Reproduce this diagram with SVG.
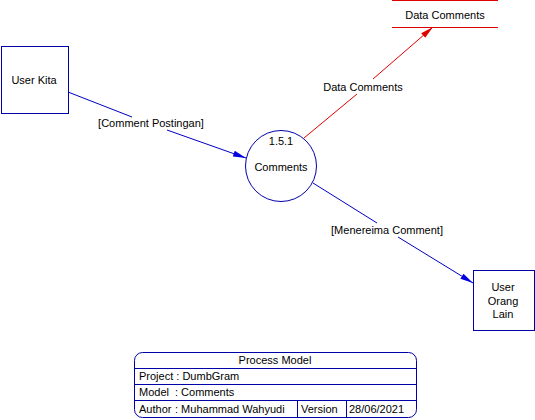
<svg xmlns="http://www.w3.org/2000/svg" width="535" height="420" viewBox="0 0 535 420">
<style>
text{font-family:"Liberation Sans",Arial,sans-serif;font-size:11px;fill:#000}
.c{text-anchor:middle}
.b{fill:none;stroke:#0000a8;stroke-width:1}
.r{fill:none;stroke:#e00000;stroke-width:1}
.bl{fill:none;stroke:#0000c0;stroke-width:1}
</style>
<defs>
<marker id="ab" markerUnits="userSpaceOnUse" markerWidth="14" markerHeight="8" refX="13" refY="4" orient="auto"><path d="M0,1 L13,4 L0,7 Z" fill="#0000e0"/></marker>
<marker id="ar" markerUnits="userSpaceOnUse" markerWidth="14" markerHeight="8" refX="13" refY="4" orient="auto"><path d="M0,1 L13,4 L0,7 Z" fill="#e00000"/></marker>
</defs>
<rect width="535" height="420" fill="#fff"/>
<g id="connectors">
<line class="bl" x1="68" y1="92" x2="132" y2="117"/>
<line class="bl" x1="167" y1="130" x2="246" y2="158" marker-end="url(#ab)"/>
<text class="c" x="151" y="127">[Comment Postingan]</text>
<line class="r" x1="304" y1="138" x2="357" y2="94"/>
<line class="r" x1="373" y1="79" x2="433" y2="27" marker-end="url(#ar)"/>
<text class="c" x="363" y="91">Data Comments</text>
<line class="bl" x1="313" y1="183" x2="377" y2="223"/>
<line class="bl" x1="398" y1="237" x2="473" y2="283" marker-end="url(#ab)"/>
<text class="c" x="387" y="234">[Menereima Comment]</text>
</g>
<g id="user-kita">
<rect class="b" x="1.5" y="46.5" width="67" height="67"/>
<text class="c" x="34" y="84">User Kita</text>
</g>
<g id="process-comments">
<circle class="b" cx="281" cy="166" r="35.5"/>
<text class="c" x="281" y="145">1.5.1</text>
<text class="c" x="281" y="171">Comments</text>
</g>
<g id="data-comments">
<line class="r" x1="392" y1="0.5" x2="498" y2="0.5"/>
<line class="r" x1="392" y1="27.5" x2="498" y2="27.5"/>
<text class="c" x="445" y="19">Data Comments</text>
</g>
<g id="user-orang-lain">
<rect class="b" x="473.5" y="270.5" width="61" height="60"/>
<text class="c" x="503" y="291">User</text>
<text class="c" x="503" y="305">Orang</text>
<text class="c" x="503" y="318">Lain</text>
</g>
<g id="title-block">
<rect class="b" x="134.5" y="352.5" width="282" height="65" rx="8"/>
<line class="b" x1="134.5" y1="368.5" x2="416.5" y2="368.5"/>
<line class="b" x1="134.5" y1="384.5" x2="416.5" y2="384.5"/>
<line class="b" x1="134.5" y1="400.5" x2="416.5" y2="400.5"/>
<line class="b" x1="297.5" y1="400.5" x2="297.5" y2="417.5"/>
<line class="b" x1="346.5" y1="400.5" x2="346.5" y2="417.5"/>
<text class="c" x="275" y="364">Process Model</text>
<text x="139" y="380">Project : DumbGram</text>
<text x="139" y="396">Model</text>
<text x="175" y="396">: Comments</text>
<text x="139" y="413">Author</text>
<text x="175" y="413">: Muhammad Wahyudi</text>
<text x="301" y="413">Version</text>
<text x="349" y="413">28/06/2021</text>
</g>
</svg>
